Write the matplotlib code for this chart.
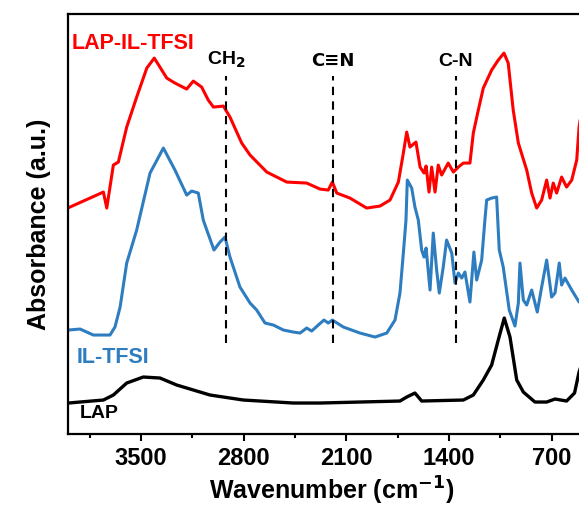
import matplotlib.pyplot as plt
from matplotlib.ticker import MultipleLocator

plt.rcParams['font.family'] = ['Liberation Sans', 'DejaVu Sans']
plt.rcParams['font.weight'] = 'bold'

# FTIR spectra, wavenumber (cm-1) vs absorbance (a.u., stacked)
wn_lap_il = [4000, 3757, 3734, 3689, 3655, 3598, 3530, 3461, 3410, 3325, 3269, 3189, 3144,
             3087, 3042, 3007, 2939, 2894, 2814, 2757, 2643, 2507, 2371, 2280, 2224, 2196,
             2166, 2076, 1962, 1871, 1803, 1746, 1712, 1689, 1667, 1626, 1598, 1571, 1557,
             1537, 1519, 1496, 1474, 1451, 1406, 1371, 1337, 1303, 1258, 1235, 1201, 1167,
             1110, 1065, 1026, 997, 963, 928, 871, 837, 803, 769, 735, 712, 690, 667, 633,
             599, 564, 530, 514, 480, 400]
abs_lap_il = [2.26, 2.42, 2.26, 2.69, 2.72, 3.07, 3.37, 3.66, 3.76, 3.56, 3.51, 3.45, 3.53,
              3.47, 3.34, 3.27, 3.28, 3.17, 2.91, 2.79, 2.62, 2.52, 2.51, 2.45, 2.44, 2.52,
              2.41, 2.36, 2.26, 2.28, 2.34, 2.52, 2.81, 3.02, 2.87, 2.92, 2.67, 2.61, 2.68,
              2.42, 2.67, 2.42, 2.69, 2.59, 2.71, 2.62, 2.67, 2.71, 2.71, 3.01, 3.24, 3.46,
              3.64, 3.74, 3.81, 3.71, 3.24, 2.91, 2.64, 2.41, 2.26, 2.34, 2.54, 2.36, 2.51, 2.41, 2.57,
              2.47, 2.54, 2.74, 3.07, 3.40, 3.70]

wn_il = [3996, 3916, 3825, 3712, 3678, 3643, 3598, 3530, 3439, 3348, 3269, 3189, 3155, 3110,
         3076, 3052, 3003, 2962, 2928, 2894, 2826, 2757, 2712, 2655, 2598, 2530, 2462, 2416,
         2371, 2337, 2292, 2253, 2224, 2196, 2121, 2008, 1905, 1825, 1769, 1735, 1712, 1694,
         1685, 1655, 1633, 1610, 1587, 1571, 1557, 1530, 1508, 1485, 1467, 1440, 1417, 1382,
         1360, 1337, 1314, 1292, 1258, 1231, 1212, 1178, 1156, 1144, 1110, 1076, 1065, 1058,
         1031, 990, 951, 928, 917, 894, 871, 837, 799, 769, 735, 701, 678, 649, 633, 610,
         564, 514, 400]
abs_il = [1.04, 1.05, 0.99, 0.99, 1.07, 1.27, 1.71, 2.04, 2.61, 2.86, 2.64, 2.39, 2.43, 2.41,
          2.14, 2.04, 1.84, 1.92, 1.97, 1.77, 1.47, 1.31, 1.24, 1.11, 1.09, 1.04, 1.02, 1.01,
          1.06, 1.03, 1.09, 1.14, 1.11, 1.14, 1.07, 1.01, 0.97, 1.01, 1.14, 1.41, 1.81, 2.14,
          2.54, 2.46, 2.27, 2.14, 1.84, 1.77, 1.86, 1.44, 2.01, 1.64, 1.41, 1.67, 1.94, 1.81,
          1.51, 1.61, 1.56, 1.62, 1.32, 1.82, 1.54, 1.74, 2.14, 2.34, 2.36, 2.37, 2.04, 1.84,
          1.67, 1.24, 1.08, 1.31, 1.71, 1.34, 1.29, 1.44, 1.22, 1.47, 1.74, 1.37, 1.41, 1.71,
          1.49, 1.56, 1.44, 1.32, 1.25]

wn_lap = [3996, 3757, 3689, 3598, 3485, 3371, 3257, 3030, 2803, 2462, 2280, 1735, 1689, 1633,
          1587, 1303, 1235, 1167, 1110, 1065, 1024, 985, 939, 894, 815, 735, 678, 599, 545,
          514, 450, 400]
abs_lap = [0.31, 0.34, 0.39, 0.51, 0.57, 0.56, 0.49, 0.39, 0.34, 0.31, 0.31, 0.33, 0.37, 0.41,
           0.33, 0.34, 0.39, 0.54, 0.69, 0.94, 1.16, 0.97, 0.54, 0.42, 0.32, 0.32, 0.35, 0.33,
           0.41, 0.62, 0.90, 1.00]

band_wn = [2920, 2192, 1353]
band_labels = ['CH$_\\mathbf{2}$', 'C\u2261N', 'C-N']

red = '#ff0000'
blue = '#2e7dc0'

fig = plt.figure(figsize=(5.79, 5.14), dpi=100)
ax = fig.add_axes([0.117, 0.1556, 0.912, 0.817])

ax.plot(wn_lap_il, abs_lap_il, color=red, lw=2.2)
ax.plot(wn_il, abs_il, color=blue, lw=2.2)
ax.plot(wn_lap, abs_lap, color='black', lw=2.4)

for w, lab in zip(band_wn, band_labels):
    ax.plot([w, w], [0.91, 3.58], color='black', lw=1.5, ls=(0, (4, 3)))
    if '\u2261' in lab:
        # Liberation's triple bar is thin, DejaVu's bold one is closer
        ax.text(w, 3.64, lab, ha='center', va='bottom', fontsize=13, fontweight='bold',
                family='DejaVu Sans')
    else:
        ax.text(w, 3.64, lab, ha='center', va='bottom', fontsize=14, fontweight='bold')

ax.text(3972, 3.91, 'LAP-IL-TFSI', color=red, fontsize=15.5, fontweight='bold', va='center')
ax.text(3937, 0.77, 'IL-TFSI', color=blue, fontsize=15.5, fontweight='bold', va='center')
ax.text(3916, 0.21, 'LAP', color='black', fontsize=14, fontweight='bold', va='center')

ax.set_xlim(4000, 400)
ax.set_ylim(0, 4.2)
ax.xaxis.set_minor_locator(MultipleLocator(350))
ax.set_xticks([3500, 2800, 2100, 1400, 700])
ax.set_yticks([])
ax.tick_params(axis='x', which='major', length=5, width=1.5, labelsize=17, pad=4)
ax.tick_params(axis='x', which='minor', length=3, width=1.5)
for lbl in ax.get_xticklabels():
    lbl.set_fontweight('bold')
for s in ax.spines.values():
    s.set_linewidth(1.6)

ax.set_xlabel('Wavenumber (cm$^{\\mathbf{-1}}$)', fontsize=18, fontweight='bold', labelpad=4)
ax.set_ylabel('Absorbance (a.u.)', fontsize=18, fontweight='bold', labelpad=12)

fig.savefig('out.png', dpi=100)
